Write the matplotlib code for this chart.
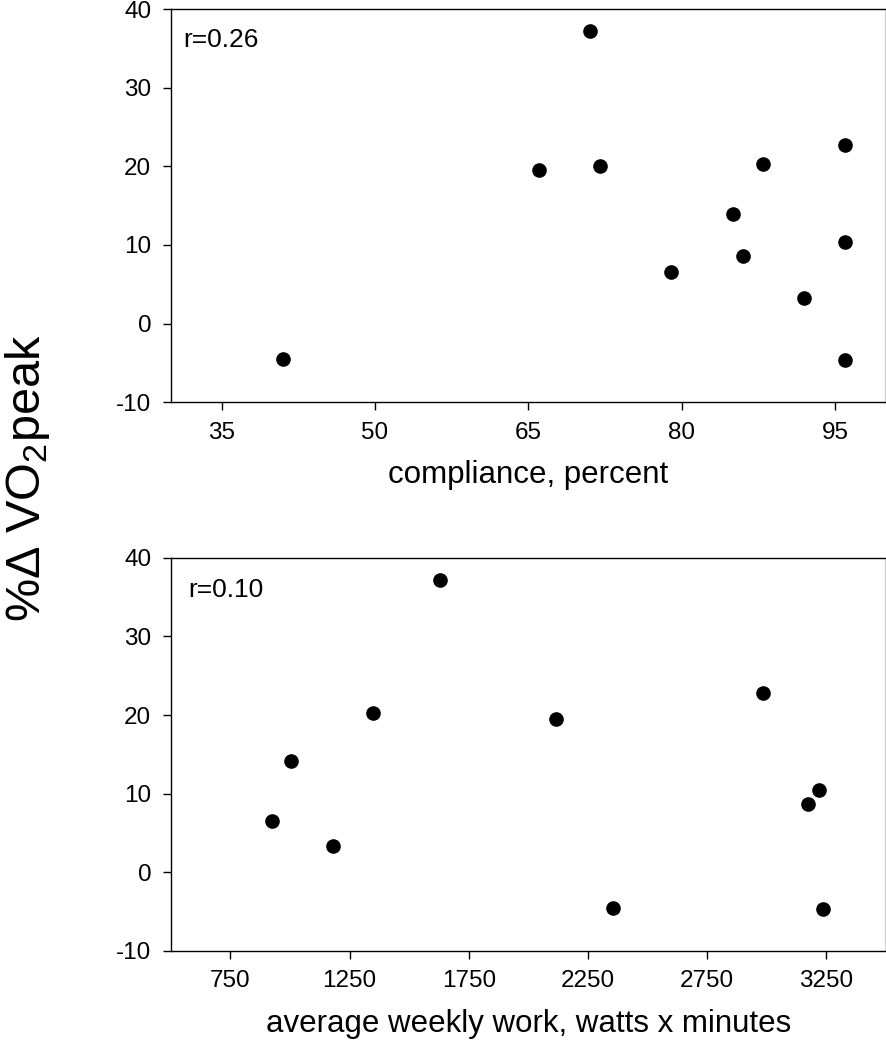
import matplotlib
matplotlib.use("Agg")
import matplotlib.pyplot as plt

plt.rcParams['font.family'] = ['Liberation Sans', 'DejaVu Sans']
plt.rcParams['mathtext.fontset'] = 'custom'
plt.rcParams['mathtext.rm'] = 'Liberation Sans'
plt.rcParams['mathtext.it'] = 'Liberation Sans'
plt.rcParams['axes.unicode_minus'] = False

# Top panel: compliance (%) vs %Δ VO2peak
compliance = [41.0, 71.0, 66.0, 72.0, 79.0, 85.0, 86.0, 88.0, 92.0, 96.0, 96.0, 96.0]
vo2_top = [-4.5, 37.2, 19.5, 20.1, 6.5, 14.0, 8.6, 20.3, 3.3, 22.7, 10.4, -4.6]
r_top = "r=0.26"
xticks_top = [35, 50, 65, 80, 95]

# Bottom panel: average weekly work (watts x minutes) vs %Δ VO2peak
work = [927, 1005, 1182, 1349, 1629, 2118, 2356, 2982, 3174, 3220, 3237]
vo2_bot = [6.5, 14.1, 3.3, 20.3, 37.2, 19.5, -4.5, 22.8, 8.7, 10.5, -4.6]
r_bot = "r=0.10"
xticks_bot = [750, 1250, 1750, 2250, 2750, 3250]

yticks = [-10, 0, 10, 20, 30, 40]

fig = plt.figure(figsize=(8.87, 10.5), dpi=100)
ax1 = fig.add_axes([0.1924, 0.6169, 0.8065, 0.3745])
ax2 = fig.add_axes([0.1924, 0.0943, 0.8065, 0.3745])

def style(ax):
    for s in ax.spines.values():
        s.set_linewidth(1.0)
    ax.tick_params(direction='out', length=6, width=1.0, labelsize=17.5, pad=8)
    ax.set_ylim(-10, 40)
    ax.set_yticks(yticks)

ax1.plot(compliance, vo2_top, 'o', color='black', markersize=9.5)
ax1.set_xlim(30, 100)
ax1.set_xticks(xticks_top)
style(ax1)
ax1.set_xlabel("compliance, percent", fontsize=22.5, labelpad=12)
ax1.text(0.017, 0.952, r_top, transform=ax1.transAxes, fontsize=19, va='top', ha='left')

ax2.plot(work, vo2_bot, 'o', color='black', markersize=9.5)
ax2.set_xlim(500, 3500)
ax2.set_xticks(xticks_bot)
style(ax2)
ax2.set_xlabel("average weekly work, watts x minutes", fontsize=22.5, labelpad=12)
ax2.text(0.024, 0.948, r_bot, transform=ax2.transAxes, fontsize=19, va='top', ha='left')

fig.text(0.031, 0.545, "%\u0394 VO$_{2}$peak", rotation=90, fontsize=35, va='center', ha='center')

fig.savefig("out.png", dpi=100)
